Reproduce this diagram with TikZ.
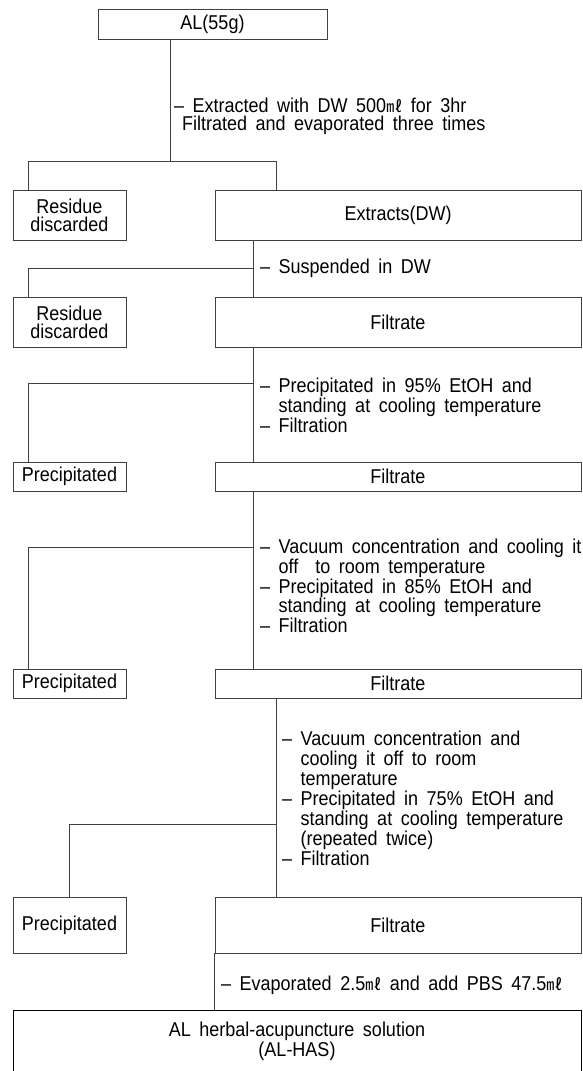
\documentclass[tikz,border=0pt]{standalone}
\usepackage{fontspec}
\setmainfont{Liberation Sans}[FakeStretch=0.9]
\newfontfamily\cjk{Noto Sans CJK KR}
\newcommand{\ml}{{\cjk\fontsize{16}{16}\selectfont ㎖}}
\newcommand{\flowfont}[1][20]{\fontsize{20}{#1}\selectfont\spaceskip=8.5pt\relax}

\tikzset{
	box/.style={draw=black!75, line width=0.9pt, inner sep=0pt, minimum height=50pt, align=center},
	note/.style={anchor=west, inner sep=0pt, align=left},
	link/.style={draw=black!75, line width=0.9pt},
}

\begin{document}
\begin{tikzpicture}[x=1pt, y=-1pt, every node/.style={font=\flowfont}]
	\useasboundingbox (0, 0) rectangle (582, 1071);

	\node[box, minimum width=229pt, minimum height=30pt] (al) at (212.5, 24) {AL(55g)};

	\node[box, minimum width=113pt, font={\flowfont[18]}] (res1) at (69.5, 215) {Residue\\discarded};
	\node[box, minimum width=366pt] (ext) at (398, 215) {Extracts(DW)};

	\node[box, minimum width=113pt, font={\flowfont[18]}] (res2) at (69.5, 322) {Residue\\discarded};
	\node[box, minimum width=366pt] (filt1) at (398, 322) {Filtrate};

	\node[box, minimum width=113pt, minimum height=29pt] (prec1) at (69.5, 476.5) {Precipitated};
	\node[box, minimum width=366pt, minimum height=29pt] (filt2) at (398, 476.5) {Filtrate};

	\node[box, minimum width=113pt, minimum height=29pt] (prec2) at (69.5, 683.5) {Precipitated};
	\node[box, minimum width=366pt, minimum height=29pt] (filt3) at (398, 683.5) {Filtrate};

	\node[box, minimum width=113pt, minimum height=56pt] (prec3) at (69.5, 925) {Precipitated};
	\node[box, minimum width=366pt, minimum height=56pt] (filt4) at (398, 925) {Filtrate};

	\node[box, draw=black, minimum width=568pt, minimum height=63pt] (has) at (297, 1041.5) {AL herbal-acupuncture solution\\(AL-HAS)};

	\node[note, font={\flowfont[18]}] (t1) at (174, 116) {– Extracted with DW 500\ml{} for 3hr\\\hspace*{8pt}Filtrated and evaporated three times};
	\node[note] (t2) at (260, 268) {– Suspended in DW};
	\node[note] (t3) at (260, 405) {– Precipitated in 95\% EtOH and\\\hphantom{– }standing at cooling temperature\\– Filtration};
	\node[note, font={\flowfont[17]}] (t4) at (260, 586) {– Vacuum concentration and cooling it\\\hphantom{– }off\ \ to room temperature\\– Precipitated in 85\% EtOH and\\\hphantom{– }standing at cooling temperature\\– Filtration};
	\node[note] (t5) at (282, 798) {– Vacuum concentration and\\\hphantom{– }cooling it off to room\\\hphantom{– }temperature\\– Precipitated in 75\% EtOH and\\\hphantom{– }standing at cooling temperature\\\hphantom{– }(repeated twice)\\– Filtration};
	\node[note] (t6) at (221, 985) {– Evaporated 2.5\ml{} and add PBS 47.5\ml};

	\coordinate (j1) at (170, 161);
	\coordinate (j1l) at (28.5, 161);
	\coordinate (j1r) at (276, 161);
	\draw[link] (al.south -| j1) -- (j1);
	\draw[link] (res1.north -| j1l) -- (j1l) -- (j1r) -- (ext.north -| j1r);

	\coordinate (j2) at (253.5, 268);
	\coordinate (j2l) at (28, 268);
	\draw[link] (ext.south -| j2) -- (filt1.north -| j2);
	\draw[link] (j2) -- (j2l) -- (res2.north -| j2l);

	\coordinate (j3) at (253.5, 383);
	\coordinate (j3l) at (28, 383);
	\draw[link] (filt1.south -| j3) -- (filt2.north -| j3);
	\draw[link] (j3) -- (j3l) -- (prec1.north -| j3l);

	\coordinate (j4) at (253.5, 547);
	\coordinate (j4l) at (28, 547);
	\draw[link] (filt2.south -| j4) -- (filt3.north -| j4);
	\draw[link] (j4) -- (j4l) -- (prec2.north -| j4l);

	\coordinate (j5) at (276, 824);
	\draw[link] (filt3.south -| j5) -- (filt4.north -| j5);
	\draw[link] (j5) -| (prec3.north);

	\draw[link] (filt4.south west) -- (has.north -| filt4.south west);

\end{tikzpicture}
\end{document}
